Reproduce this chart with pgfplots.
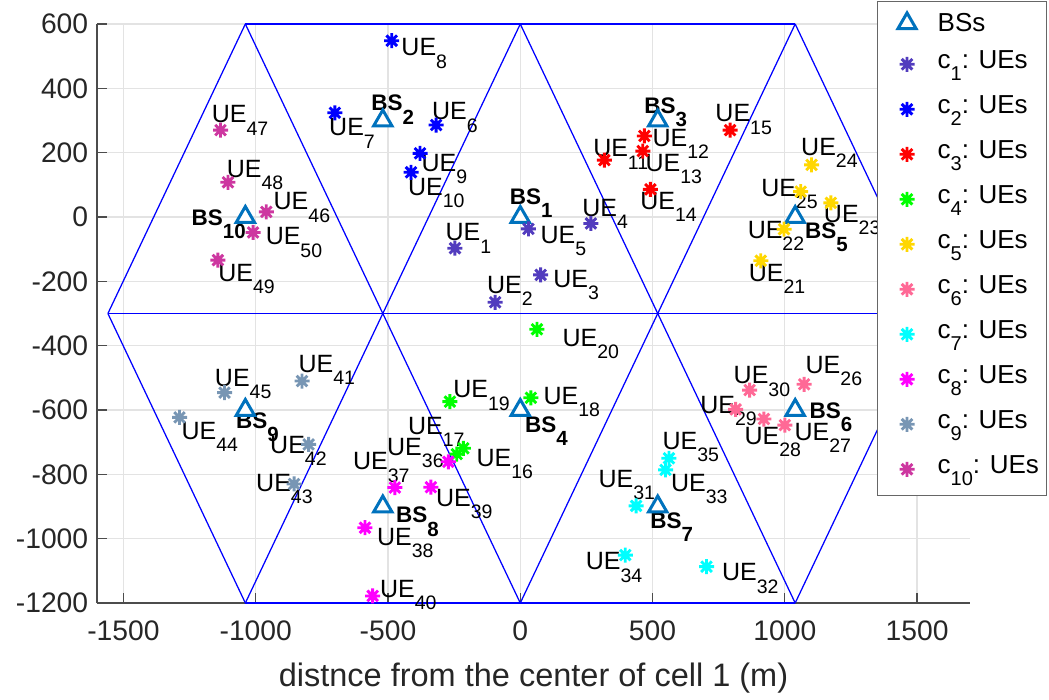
\documentclass[border=0pt]{standalone}
\usepackage{fontspec}
\setmainfont{Liberation Sans}
\usepackage{pgfplots}
\pgfplotsset{compat=1.18}
\definecolor{bscol}{rgb}{0,0.447,0.741}
\definecolor{cA}{RGB}{82,60,190}
\definecolor{cB}{RGB}{0,0,255}
\definecolor{cC}{RGB}{255,0,0}
\definecolor{cD}{RGB}{0,255,0}
\definecolor{cE}{RGB}{255,215,0}
\definecolor{cF}{RGB}{255,105,150}
\definecolor{cG}{RGB}{0,255,255}
\definecolor{cH}{RGB}{255,0,255}
\definecolor{cI}{RGB}{120,150,180}
\definecolor{cJ}{RGB}{205,55,160}
\pgfdeclareplotmark{ast8}{%
  \pgfpathmoveto{\pgfqpoint{-\pgfplotmarksize}{0pt}}\pgfpathlineto{\pgfqpoint{\pgfplotmarksize}{0pt}}%
  \pgfpathmoveto{\pgfqpoint{0pt}{-\pgfplotmarksize}}\pgfpathlineto{\pgfqpoint{0pt}{\pgfplotmarksize}}%
  \pgfpathmoveto{\pgfqpoint{-0.7071\pgfplotmarksize}{-0.7071\pgfplotmarksize}}\pgfpathlineto{\pgfqpoint{0.7071\pgfplotmarksize}{0.7071\pgfplotmarksize}}%
  \pgfpathmoveto{\pgfqpoint{-0.7071\pgfplotmarksize}{0.7071\pgfplotmarksize}}\pgfpathlineto{\pgfqpoint{0.7071\pgfplotmarksize}{-0.7071\pgfplotmarksize}}%
  \pgfusepathqstroke}
\newcommand\ue[1]{UE\raisebox{-4.9pt}{\fontsize{7.8}{8}\selectfont #1}}
\newcommand\bs[1]{\textbf{BS\raisebox{-5.4pt}{\fontsize{8.2}{8}\selectfont #1}}}
\newcommand\cc[1]{c\raisebox{-4.7pt}{\fontsize{8}{8}\selectfont #1}: UEs}
\begin{document}
\begin{tikzpicture}
\begin{axis}[
  at={(0,0)}, anchor=south west,
  scale only axis, width=349.2pt, height=231.6pt,
  xmin=-1600, xmax=1700, ymin=-1200, ymax=600,
  xtick={-1500,-1000,-500,0,500,1000,1500},
  ytick={-1200,-1000,-800,-600,-400,-200,0,200,400,600},
  axis lines*=left,
  axis line style={black!70, line width=0.5pt},
  tick style={black!70, line width=0.5pt},
  major tick length=4pt,
  grid=major,
  major grid style={gray!22, line width=0.5pt},
  /pgf/number format/assume math mode=true,
  /pgf/number format/1000 sep={},
  tick label style={font=\fontsize{11.3}{13}\selectfont, text=black!85},
  xticklabel style={yshift=-3.5pt},
  xlabel={distnce from the center of cell 1 (m)},
  xlabel style={font=\fontsize{13}{15}\selectfont, text=black!85, at={(axis description cs:0.5,0)}, anchor=base, yshift=-33.2pt},
  legend style={at={(0.8935,1.0397)}, anchor=north west, draw=black!60, line width=0.5pt,
    font=\fontsize{10.4}{12}\selectfont, row sep=3.3pt, column sep=1.5pt, inner xsep=2pt, inner ysep=3pt,
    nodes={inner sep=1pt, text height=8pt, text depth=4.7pt}},
  legend cell align=left,
  legend image code/.code={\path (-9.5pt,0pt) (9.5pt,0pt); \draw[#1] plot coordinates {(0pt,0pt)};},
  clip=false,
]
% cell lines
\pgfplotsset{cline/.style={blue, line width=0.5pt, forget plot}}
\addplot[cline] coordinates {(-1039.2,600) (1039.2,600)};
\addplot[cline] coordinates {(-1558.8,-300) (1558.8,-300)};
\addplot[cline] coordinates {(-1039.2,-1200) (1039.2,-1200)};
\addplot[cline] coordinates {(-1558.8,-300) (-1039.2,600)};
\addplot[cline] coordinates {(-1039.2,-1200) (0,600)};
\addplot[cline] coordinates {(0,-1200) (1039.2,600)};
\addplot[cline] coordinates {(1039.2,-1200) (1558.8,-300)};
\addplot[cline] coordinates {(-1039.2,600) (0,-1200)};
\addplot[cline] coordinates {(0,600) (1039.2,-1200)};
\addplot[cline] coordinates {(1039.2,600) (1558.8,-300)};
\addplot[cline] coordinates {(-1558.8,-300) (-1039.2,-1200)};
% BSs
\addplot[only marks, mark=triangle*, mark size=4.2pt, mark options={draw=bscol, fill=white, line width=1.2pt}]
 coordinates {(0,0) (-519.6,300) (519.6,300) (0,-600) (1039.2,0) (1039.2,-600) (519.6,-900) (-519.6,-900) (-1039.2,-600) (-1039.2,0)};
\addlegendentry[text depth=1.4pt]{BSs}
\pgfplotsset{uem/.style={only marks, mark=ast8, mark size=3pt, mark options={line width=1.15pt, draw=#1}}}
\addplot[uem=cA] coordinates {(-247,-97) (-95,-265) (77,-180) (267,-20) (31,-37)};
\addlegendentry{\cc{1}}
\addplot[uem=cB] coordinates {(-318,286) (-701,324) (-486,548) (-379,198) (-413,139)};
\addlegendentry{\cc{2}}
\addplot[uem=cC] coordinates {(318,177) (469,252) (463,205) (492,86) (793,270)};
\addlegendentry{\cc{3}}
\addplot[uem=cD] coordinates {(-215,-719) (-240,-737) (40,-562) (-266,-574) (63,-349)};
\addlegendentry{\cc{4}}
\addplot[uem=cE] coordinates {(909,-136) (997,-38) (1174,44) (1101,162) (1060,79)};
\addlegendentry{\cc{5}}
\addplot[uem=cF] coordinates {(1073,-520) (1000,-647) (921,-628) (814,-598) (867,-538)};
\addlegendentry{\cc{6}}
\addplot[uem=cG] coordinates {(438,-898) (704,-1087) (549,-786) (397,-1051) (562,-750)};
\addlegendentry{\cc{7}}
\addplot[uem=cH] coordinates {(-272,-761) (-474,-841) (-587,-966) (-338,-840) (-558,-1178)};
\addlegendentry{\cc{8}}
\addplot[uem=cI] coordinates {(-825,-510) (-800,-707) (-855,-830) (-1288,-623) (-1118,-546)};
\addlegendentry{\cc{9}}
\addplot[uem=cJ] coordinates {(-960,16) (-1133,270) (-1105,108) (-1143,-134) (-1010,-48)};
\addlegendentry{\cc{10}}
% labels
\def\L(#1,#2)#3{\node[anchor=base west, inner sep=0pt, font=\fontsize{10}{12}\selectfont] at (axis cs:#1,#2) {\ue{#3}};}
\def\B(#1,#2)#3{\node[anchor=base west, inner sep=0pt, font=\fontsize{9}{10}\selectfont] at (axis cs:#1,#2) {\bs{#3}};}
\L(-284,-74){1}
\L(-127,-237){2}
\L(123,-219){3}
\L(233,1){4}
\L(75,-82){5}
\L(-335,302){6}
\L(-724,252){7}
\L(-451,501){8}
\L(-375,143){9}
\L(-426,68){10}
\L(274,187){11}
\L(498,219){12}
\L(472,141){13}
\L(452,24){14}
\L(736,296){15}
\L(-167,-776){16}
\L(-426,-675){17}
\L(86,-582){18}
\L(-255,-562){19}
\L(158,-403){20}
\L(862,-201){21}
\L(858,-66){22}
\L(1146,-17){23}
\L(1060,191){24}
\L(909,63){25}
\L(1077,-486){26}
\L(1035,-695){27}
\L(846,-706){28}
\L(679,-610){29}
\L(805,-519){30}
\L(294,-841){31}
\L(761,-1131){32}
\L(568,-854){33}
\L(246,-1097){34}
\L(536,-722){35}
\L(-505,-742){36}
\L(-634,-786){37}
\L(-543,-1020){38}
\L(-320,-900){39}
\L(-532,-1183){40}
\L(-840,-484){41}
\L(-947,-735){42}
\L(-1000,-854){43}
\L(-1282,-691){44}
\L(-1156,-527){45}
\L(-934,22){46}
\L(-1168,293){47}
\L(-1111,123){48}
\L(-1143,-201){49}
\L(-964,-87){50}
\B(-41,39){1}
\B(-565,330){2}
\B(467,322){3}
\B(16,-669){4}
\B(1075,-66){5}
\B(1092,-626){6}
\B(490,-968){7}
\B(-471,-950){8}
\B(-1076,-657){9}
\B(-1244,-25){10}
\end{axis}
\pgfresetboundingbox
\path[use as bounding box] (-38.8pt,-38.4pt) rectangle (380.8pt,241.2pt);
\end{tikzpicture}
\end{document}
